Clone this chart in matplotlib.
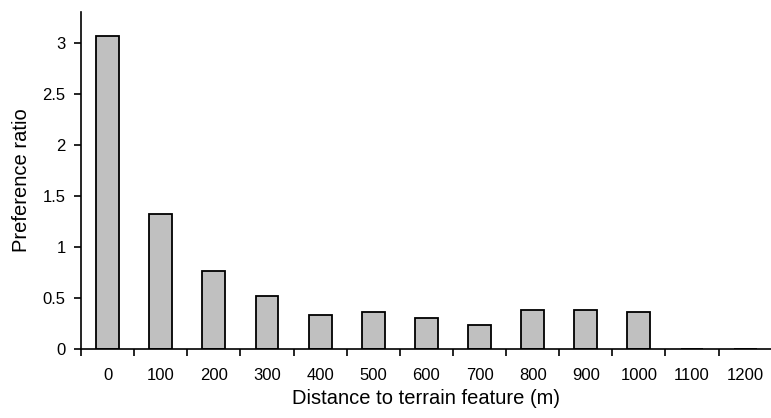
import numpy as np
import matplotlib.pyplot as plt

# distance classes (m) and preference ratio per class
distances = ['0', '100', '200', '300', '400', '500', '600', '700',
             '800', '900', '1000', '1100', '1200']
pref_ratio = [3.07, 1.32, 0.76, 0.52, 0.33, 0.36, 0.30, 0.24,
              0.38, 0.38, 0.36, 0.0, 0.0]

plt.rcParams['font.family'] = ['Liberation Sans', 'DejaVu Sans']

fig = plt.figure(figsize=(7.71, 4.18), dpi=100)
ax = fig.add_axes([0.105, 0.165, 0.896, 0.806])

x = np.arange(len(distances))
ax.bar(x, pref_ratio, width=0.43, color='#c0c0c0', edgecolor='black', linewidth=1.3)

ax.set_xlim(-0.5, len(distances) - 0.5)
ax.set_ylim(0, 3.3)

# labels at category centres, tick marks at category boundaries
ax.set_xticks(x)
ax.set_xticklabels(distances)
ax.set_xticks(np.arange(-0.5, len(distances) + 0.5, 1), minor=True)
ax.tick_params(axis='x', which='major', length=0, pad=14, labelsize=12)
ax.tick_params(axis='x', which='minor', length=5, width=1.2, direction='out')

ax.set_yticks([0, 0.5, 1, 1.5, 2, 2.5, 3])
ax.set_yticklabels(['0', '0.5', '1', '1.5', '2', '2.5', '3'])
ax.tick_params(axis='y', length=5, width=1.2, direction='out', pad=6, labelsize=12)

for side in ['top', 'right']:
    ax.spines[side].set_visible(False)
for side in ['left', 'bottom']:
    ax.spines[side].set_linewidth(1.2)

ax.set_xlabel('Distance to terrain feature (m)', fontsize=14.5, labelpad=4)
ax.set_ylabel('Preference ratio', fontsize=14.5, labelpad=8)

fig.savefig('out.png', dpi=100)
